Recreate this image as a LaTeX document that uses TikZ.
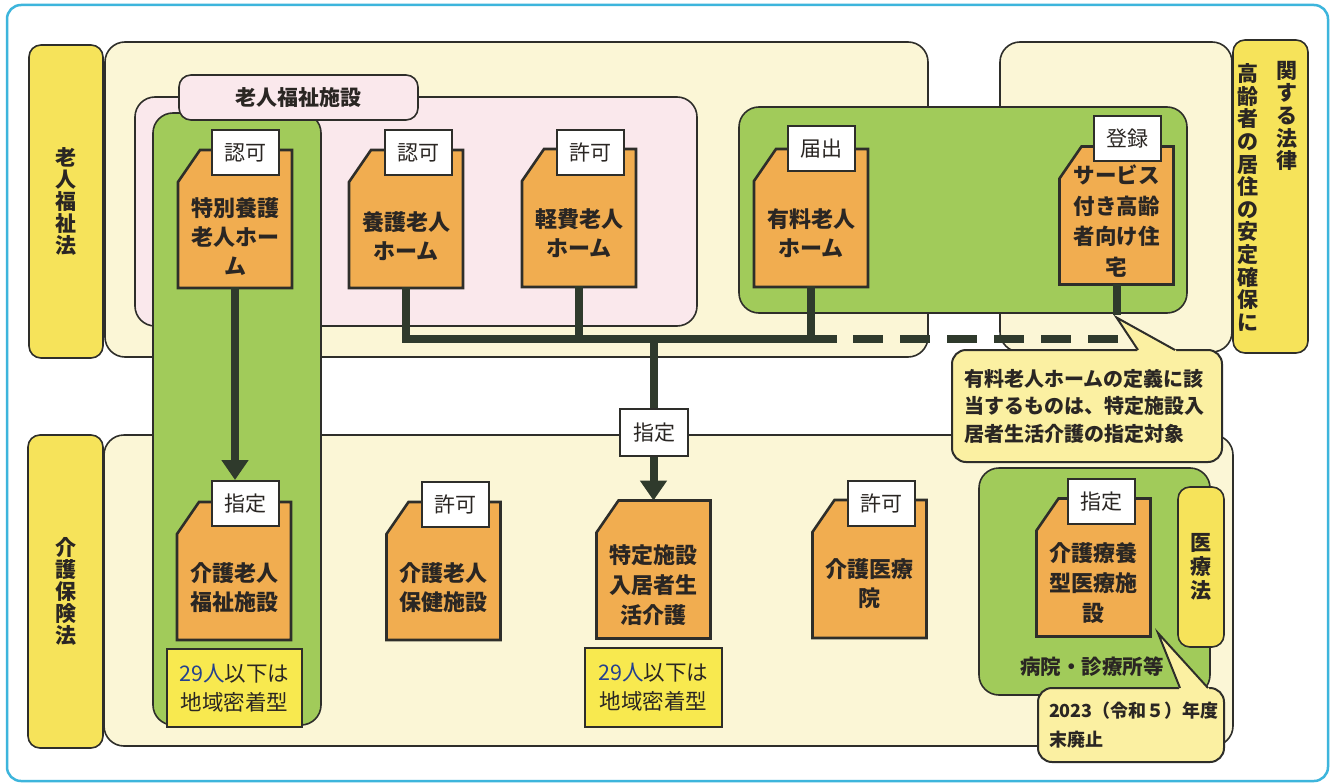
\documentclass[tikz,border=0pt]{standalone}
\usepackage{fontspec}
\setmainfont{Noto Sans CJK JP}
\usetikzlibrary{arrows.meta}
\definecolor{frameC}{HTML}{3DB5DC}
\definecolor{lineC}{HTML}{2E2E2A}
\definecolor{creamC}{HTML}{FBF6D6}
\definecolor{pinkC}{HTML}{FAE8EC}
\definecolor{greenC}{HTML}{A1CB5A}
\definecolor{yellowC}{HTML}{F6E35A}
\definecolor{orangeC}{HTML}{F1AD50}
\definecolor{connC}{HTML}{2F3A2C}
\definecolor{calloutC}{HTML}{FBF0A2}
\definecolor{noteC}{HTML}{F8E94F}
\definecolor{navyC}{HTML}{24418F}
\definecolor{textC}{HTML}{2A2623}
\tikzset{
 region/.style={draw=lineC, line width=1.6pt, rounded corners=20pt},
 lawlabel/.style={fill=yellowC, draw=lineC, line width=1.6pt, rounded corners=12pt, inner sep=0pt, align=center, text=textC, font=\bfseries\fontsize{21pt}{22pt}\selectfont},
 vtext/.style={inner sep=0pt, align=center, text=textC, font=\bfseries\fontsize{21pt}{22.6pt}\selectfont},
 docframe/.style={inner sep=0pt, outer sep=0pt, minimum width=114pt, minimum height=138pt},
 docshape/.style={fill=orangeC, draw=lineC, line width=2.6pt, line join=miter},
 doctext/.style={font=\bfseries\fontsize{22pt}{29pt}\selectfont, align=center, inner sep=0pt, text=textC},
 tabbox/.style={fill=white, draw=lineC, line width=2pt, minimum width=67pt, minimum height=45pt, inner sep=0pt, text=textC, font=\fontsize{21pt}{21pt}\selectfont},
 conn/.style={draw=connC, line width=8pt},
 arrowconn/.style={conn, -{Triangle[width=26pt,length=20pt]}},
 notebox/.style={fill=noteC, draw=lineC, line width=2.6pt, minimum width=136pt, minimum height=78pt, align=center, inner sep=0pt, text=textC, font=\fontsize{21.5pt}{29pt}\selectfont},
 callout/.style={fill=calloutC, draw=lineC, line width=2pt, rounded corners=14pt, align=left, inner sep=0pt, text=textC},
 ptr/.style={draw=lineC, line width=2pt, line join=miter}
}
\newcommand\docbox[3]{%
 \node[docframe] (#1) at (#2,#3) {};
 \draw[docshape] ([yshift=-32pt]#1.north west) -- ([xshift=22pt]#1.north west) -- (#1.north east) -- (#1.south east) -- (#1.south west) -- cycle;}
\begin{document}
\begin{tikzpicture}[x=1pt,y=-1pt]
\useasboundingbox (0,0) rectangle (1333,784);
\fill[white] (0,0) rectangle (1333,784);
\draw[frameC, line width=2.5pt, rounded corners=14pt, fill=white] (7,5) rectangle (1328,781);

% law labels
\node[lawlabel, minimum width=74pt, minimum height=313pt] (law1) at (66,201.5) {老\\人\\福\\祉\\法};
\node[lawlabel, minimum width=75pt, minimum height=313pt] (law2) at (65.5,591.5) {介\\護\\保\\険\\法};
\node[lawlabel, minimum width=75pt, minimum height=313pt] (law3) at (1270.5,196.5) {};
\node[vtext] (law3a) at (1248,197.5) {高\\齢\\者\\の\\居\\住\\の\\安\\定\\確\\保\\に};
\node[vtext] (law3b) at (1287,116) {関\\す\\る\\法\\律};

% regions
\path[region, fill=creamC] (105,42) rectangle (928,357);
\path[region, fill=creamC] (1000,42) rectangle (1232,352);
\path[region, fill=creamC] (104,435) rectangle (1233,746);
\path[region, fill=pinkC] (135,97) rectangle (697,326);
\path[region, fill=greenC] (153,113) rectangle (321,725);
\path[region, fill=greenC] (739,107) rectangle (1187,313);
\path[region, fill=greenC] (979,468) rectangle (1210,695);
\node[fill=pinkC, draw=lineC, line width=1.6pt, rounded corners=12pt, minimum width=239pt, minimum height=45pt, inner sep=0pt, text=textC, font=\bfseries\fontsize{21pt}{21pt}\selectfont] (rfs) at (298.5,97.5) {老人福祉施設};
\node[lawlabel, minimum width=46pt, minimum height=160pt, font=\bfseries\fontsize{21pt}{24pt}\selectfont] (iryoho) at (1201,567) {医\\療\\法};
\node[inner sep=0pt, text=textC, font=\bfseries\fontsize{20.5pt}{20.5pt}\selectfont] (byoin) at (1092,667) {病院・診療所等};

% documents (frames)
\docbox{tokuyo}{235}{219}
\docbox{yogo}{406}{219}
\docbox{keihi}{579}{218}
\docbox{yuryo}{811}{218}
\docbox{sako}{1116.5}{215.5}
\docbox{kaifuku}{234}{571}
\docbox{roken}{443.5}{571}
\docbox{tokutei}{653.5}{569.5}
\docbox{iryoin}{869.5}{569}
\docbox{ryoyo}{1093.5}{567.5}

% tabs
\node[tabbox] (tokuyoT) at (245.5,152.5) {認可};
\node[tabbox] (yogoT) at (418.5,152.5) {認可};
\node[tabbox] (keihiT) at (590.5,152) {許可};
\node[tabbox] (yuryoT) at (821,148.5) {届出};
\node[tabbox] (sakoT) at (1127.5,138.5) {登録};
\node[tabbox] (kaifukuT) at (245.5,503.5) {指定};
\node[tabbox] (rokenT) at (455,504.5) {許可};
\node[tabbox] (iryoinT) at (881,503.5) {許可};
\node[tabbox] (ryoyoT) at (1101,501.5) {指定};

% document texts
\node[doctext] (tokuyoX) at (235,237) {特別養護\\老人ホー\\ム};
\node[doctext] (yogoX) at (406,236) {養護老人\\ホーム};
\node[doctext] (keihiX) at (579,233) {軽費老人\\ホーム};
\node[doctext] (yuryoX) at (811,233) {有料老人\\ホーム};
\node[doctext, font=\bfseries\fontsize{21.5pt}{30.5pt}\selectfont] (sakoX) at (1116.5,221) {サービス\\付き高齢\\者向け住\\宅};
\node[doctext] (kaifukuX) at (234,587.5) {介護老人\\福祉施設};
\node[doctext] (rokenX) at (443.5,587.5) {介護老人\\保健施設};
\node[doctext, font=\bfseries\fontsize{22pt}{30pt}\selectfont] (tokuteiX) at (653.5,585) {特定施設\\入居者生\\活介護};
\node[doctext] (iryoinX) at (869.5,584) {介護医療\\院};
\node[doctext, font=\bfseries\fontsize{22pt}{30pt}\selectfont] (ryoyoX) at (1093.5,583) {介護療養\\型医療施\\設};

% connectors
\coordinate (busR) at (837,339);
\coordinate (busmid) at (tokutei.north |- busR);
\coordinate (dashA) at (853,339);
\coordinate (dashB) at (1120,339);
\coordinate (sakoend) at ([yshift=-30pt]sako.south);
\draw[conn] ([yshift=1pt]yogo.south) |- (busR);
\draw[conn] ([yshift=1pt]keihi.south) -- (keihi.south |- busR);
\draw[conn] ([yshift=1pt]yuryo.south) -- (yuryo.south |- busR);
\draw[conn, dash pattern=on 30pt off 17pt] (dashA) -- (dashB);
\draw[conn] ([yshift=1pt]sako.south) -- (sakoend);
\draw[arrowconn] ([yshift=1pt]tokuyo.south) -- (tokuyo.south |- kaifukuT.north);
\draw[arrowconn] (busmid) -- (tokutei.north);
\node[tabbox, minimum width=68pt, minimum height=47pt] (shitei) at (654,432.5) {指定};

% notes
\node[notebox, minimum width=135pt] (note1) at (234.5,688) {{\color{navyC}29人}以下は\\地域密着型};
\node[notebox, minimum width=137pt, minimum height=79pt] (note2) at (653.5,687.5) {{\color{navyC}29人}以下は\\地域密着型};

% callout 1
\coordinate (tip1) at ([yshift=-3pt]sakoend);
\node[callout, minimum width=270pt, minimum height=112pt, text width=246pt, font=\bfseries\fontsize{20pt}{27.5pt}\selectfont] (c1) at (1087,406) {有料老人ホームの定義に該\\当するものは、特定施設入\\居者生活介護の指定対象};
\fill[calloutC] (1137,353) -- (1137,350) -- (tip1) -- (1176,350) -- (1176,353) -- cycle;
\draw[ptr] (1138,350) -- (tip1) -- (1175,350);

% callout 2
\coordinate (tip2) at (1158,633);
\node[callout, minimum width=186pt, minimum height=74pt, text width=164pt, font=\bfseries\fontsize{18pt}{29pt}\selectfont] (c2) at (1131,725) {2023（令和５）年度\\末廃止};
\fill[calloutC] (1179,691) -- (1179,688) -- (tip2) -- (1209,688) -- (1209,691) -- cycle;
\draw[ptr] (1180,688) -- (tip2) -- (1208,688);
\end{tikzpicture}
\end{document}
